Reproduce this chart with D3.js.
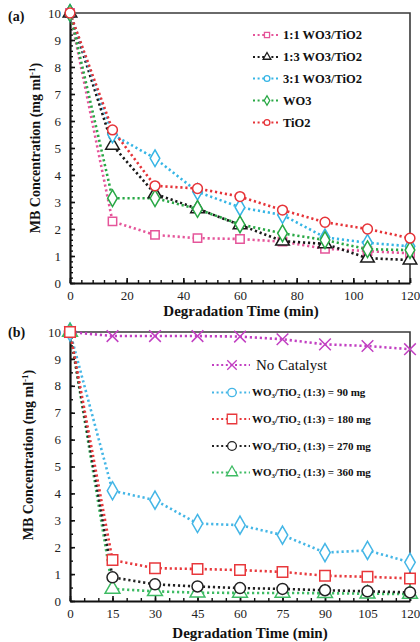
<!DOCTYPE html>
<html>
<head>
<meta charset="utf-8">
<script src="https://cdn.jsdelivr.net/npm/d3@7"></script>
<style>
  body { margin: 0; background: #fff; }
  svg, svg text { font-family: "Liberation Serif", "Times New Roman", "DejaVu Serif", serif; }
</style>
</head>
<body>
<svg id="chart" width="420" height="642"></svg>
<script>
// panel (a) data
const timesA = [0, 15, 30, 45, 60, 75, 90, 105, 120];
const ratio11 = [10, 2.28, 1.78, 1.66, 1.63, 1.53, 1.27, 1.18, 1.1];
const ratio13 = [10, 5.1, 3.3, 2.75, 2.15, 1.55, 1.45, 0.92, 0.85];
const ratio31 = [10, 5.5, 4.62, 3.38, 2.8, 2.52, 1.69, 1.49, 1.36];
const wo3 = [10, 3.14, 3.14, 2.74, 2.17, 1.84, 1.59, 1.25, 1.22];
const tio2 = [10, 5.67, 3.6, 3.5, 3.2, 2.7, 2.25, 2.0, 1.66];
const labelsA = ['1:1 WO3/TiO2', '1:3 WO3/TiO2', '3:1 WO3/TiO2', 'WO3', 'TiO2'];

// panel (b) data
const timesB = [0, 15, 30, 45, 60, 75, 90, 105, 120];
const noCat = [10, 9.85, 9.85, 9.85, 9.83, 9.73, 9.54, 9.48, 9.36];
const mg90 = [10, 4.1, 3.75, 2.88, 2.82, 2.45, 1.8, 1.88, 1.44];
const mg180 = [10, 1.52, 1.22, 1.19, 1.15, 1.08, 0.94, 0.9, 0.84];
const mg270 = [10, 0.88, 0.62, 0.54, 0.48, 0.45, 0.4, 0.36, 0.32];
const mg360 = [10, 0.45, 0.36, 0.31, 0.3, 0.3, 0.29, 0.27, 0.26];
const massesB = ['90 mg', '180 mg', '270  mg', '360  mg'];

const FONT = '"Liberation Serif", "Times New Roman", serif';
const svg = d3.select('#chart');

function markerPath(type, size) {
  const t = {
    square: d3.symbolSquare, circle: d3.symbolCircle, diamond: d3.symbolDiamond,
    triangle: d3.symbolTriangle, cross: d3.symbolX
  }[type];
  return d3.symbol().type(t).size(size)();
}

function drawPanel(cfg) {
  const g = svg.append('g').attr('font-family', FONT);
  const x = d3.scaleLinear().domain([0, 120]).range([70, 410]);
  const y = d3.scaleLinear().domain([0, 10]).range([cfg.bottom, cfg.top]);

  // frame
  g.append('path')
    .attr('d', `M${x(0)},${y(10)}H${x(120)}V${y(0)}`)
    .attr('fill', 'none').attr('stroke', '#3a3a3a').attr('stroke-width', 1.6);

  // minor ticks
  g.append('g').attr('transform', `translate(${x(0)},0)`)
    .call(d3.axisLeft(y).tickValues(d3.range(0, 10.001, cfg.yMinor)).tickSize(-3).tickFormat(''))
    .call(a => a.select('.domain').remove())
    .selectAll('line').attr('stroke', '#111').attr('stroke-width', 1.4);
  g.append('g').attr('transform', `translate(0,${y(0)})`)
    .call(d3.axisBottom(x).tickValues(d3.range(0, 120.001, cfg.xMinor)).tickSize(-3).tickFormat(''))
    .call(a => a.select('.domain').remove())
    .selectAll('line').attr('stroke', '#111').attr('stroke-width', 1.4);

  // major axes
  const ya = g.append('g').attr('transform', `translate(${x(0)},0)`)
    .call(d3.axisLeft(y).tickValues(d3.range(0, 11)).tickSize(-5).tickPadding(9).tickSizeOuter(0));
  const xa = g.append('g').attr('transform', `translate(0,${y(0)})`)
    .call(d3.axisBottom(x).tickValues(cfg.xTicks).tickSize(-5).tickPadding(8).tickSizeOuter(0));
  [ya, xa].forEach(a => {
    a.attr('font-family', FONT).attr('font-size', 13);
    a.select('.domain').attr('stroke', '#111').attr('stroke-width', 2.2);
    a.selectAll('line').attr('stroke', '#111').attr('stroke-width', 1.6);
    a.selectAll('text').attr('fill', '#222');
  });

  // titles
  g.append('text').attr('x', cfg.xTitleX).attr('y', cfg.xTitleY)
    .attr('text-anchor', 'middle').attr('font-weight', 'bold').attr('font-size', 15)
    .attr('fill', '#111').text('Degradation Time (min)');
  const yt = g.append('text')
    .attr('transform', `translate(${cfg.yTitleX},${cfg.yTitleY}) rotate(-90)`)
    .attr('text-anchor', 'middle').attr('font-weight', 'bold').attr('font-size', 14)
    .attr('fill', '#111');
  yt.append('tspan').text('MB Concentration  (mg ml');
  yt.append('tspan').attr('font-size', 9).attr('dy', -5).text('-1');
  yt.append('tspan').attr('dy', 5).text(')');
  g.append('text').attr('x', 8).attr('y', cfg.labelY)
    .attr('font-weight', 'bold').attr('font-size', 14).attr('fill', '#111').text(cfg.label);

  // series
  const line = d3.line().x(d => x(d[0])).y(d => y(d[1]));
  cfg.series.forEach(s => {
    const pts = cfg.times.map((t, i) => [t, s.values[i]]);
    g.append('path').datum(pts).attr('d', line)
      .attr('fill', 'none').attr('stroke', s.color).attr('stroke-width', 2.6)
      .attr('stroke-dasharray', '2.2,2.8');
  });
  cfg.series.forEach(s => {
    const pts = cfg.times.map((t, i) => [t, s.values[i]]);
    g.selectAll(null).data(pts).enter().append('path')
      .attr('d', markerPath(s.marker, s.size))
      .attr('transform', d => `translate(${x(d[0])},${y(d[1])})`)
      .attr('fill', s.marker === 'cross' ? 'none' : '#fff')
      .attr('stroke', s.color).attr('stroke-width', 1.5);
  });

  // legend
  cfg.legend.forEach((l, i) => {
    const ly = cfg.legY[i];
    g.append('line').attr('x1', cfg.legX0).attr('x2', cfg.legX1).attr('y1', ly).attr('y2', ly)
      .attr('stroke', l.color).attr('stroke-width', 2.2).attr('stroke-dasharray', '2,2.6');
    g.append('path').attr('d', markerPath(l.marker, l.size))
      .attr('transform', `translate(${cfg.legXm},${ly})`)
      .attr('fill', l.marker === 'cross' ? 'none' : '#fff')
      .attr('stroke', l.color).attr('stroke-width', 1.3);
    const tx = g.append('text').attr('x', l.textX).attr('y', ly + l.fs * 0.35)
      .attr('font-size', l.fs).attr('font-weight', l.bold ? 'bold' : 'normal').attr('fill', '#111');
    l.text(tx);
  });
}

const plain = s => t => t.text(s);
const subText = m => t => {
  t.append('tspan').text('WO');
  t.append('tspan').attr('font-size', 7).attr('dy', 2).text('3');
  t.append('tspan').attr('dy', -2).text('/TiO');
  t.append('tspan').attr('font-size', 7).attr('dy', 2).text('2');
  t.append('tspan').attr('dy', -2).text(' (1:3) = ' + m);
};

const colA = ['#e5559a', '#1a1a1a', '#35b5e5', '#28a845', '#e63338'];
drawPanel({
  top: 13, bottom: 283, times: timesA,
  xTicks: d3.range(0, 121, 20), xMinor: 4, yMinor: 0.2,
  xTitleX: 241, xTitleY: 316, yTitleX: 40, yTitleY: 148, label: '(a)', labelY: 21,
  series: [
    { values: ratio11, color: colA[0], marker: 'square', size: 70 },
    { values: ratio13, color: colA[1], marker: 'triangle', size: 80 },
    { values: ratio31, color: colA[2], marker: 'diamond', size: 80 },
    { values: wo3, color: colA[3], marker: 'diamond', size: 80 },
    { values: tio2, color: colA[4], marker: 'circle', size: 75 }
  ],
  legX0: 253, legX1: 280, legXm: 267, legY: [35, 57, 78.5, 100.5, 122.5],
  legend: labelsA.map((lab, i) => ({
    color: colA[i], marker: ['square', 'triangle', 'circle', 'diamond', 'circle'][i], size: 26,
    textX: 283, fs: 12.5, bold: true, text: plain(lab)
  }))
});

const colB = ['#c23fc2', '#44b6e6', '#e8383c', '#222222', '#3dbb63'];
drawPanel({
  top: 332, bottom: 601, times: timesB,
  xTicks: d3.range(0, 121, 15), xMinor: 5, yMinor: 0.5,
  xTitleX: 250, xTitleY: 638, yTitleX: 33, yTitleY: 455, label: '(b)', labelY: 337,
  series: [
    { values: noCat, color: colB[0], marker: 'cross', size: 90 },
    { values: mg90, color: colB[1], marker: 'diamond', size: 95 },
    { values: mg360, color: colB[4], marker: 'triangle', size: 95 },
    { values: mg270, color: colB[3], marker: 'circle', size: 95 },
    { values: mg180, color: colB[2], marker: 'square', size: 110 }
  ],
  legX0: 212, legX1: 250, legXm: 232, legY: [365, 392.5, 419, 446, 472.5],
  legend: [
    { color: colB[0], marker: 'cross', size: 60, textX: 256, fs: 15, bold: false, text: plain('No Catalyst') },
    { color: colB[1], marker: 'circle', size: 55, textX: 252, fs: 11, bold: true, text: subText(massesB[0]) },
    { color: colB[2], marker: 'square', size: 90, textX: 252, fs: 11, bold: true, text: subText(massesB[1]) },
    { color: colB[3], marker: 'circle', size: 60, textX: 252, fs: 11, bold: true, text: subText(massesB[2]) },
    { color: colB[4], marker: 'triangle', size: 55, textX: 252, fs: 11, bold: true, text: subText(massesB[3]) }
  ]
});
</script>
</body>
</html>
